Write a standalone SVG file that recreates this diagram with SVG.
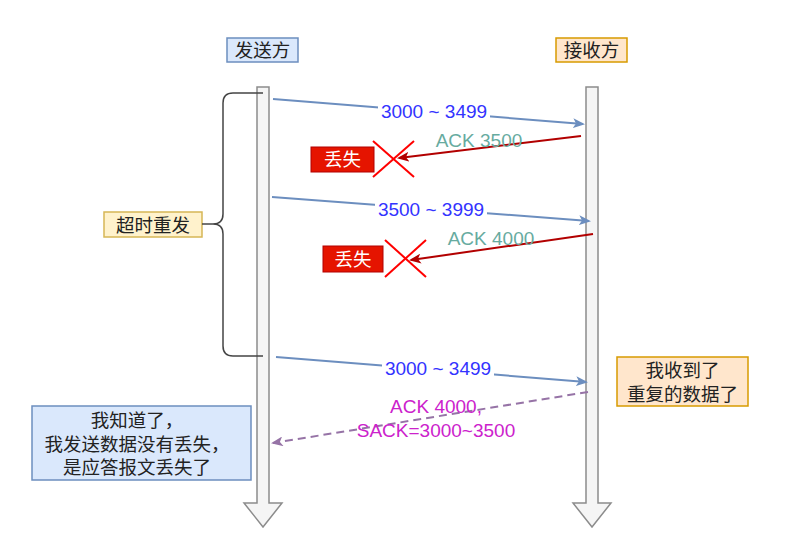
<svg xmlns="http://www.w3.org/2000/svg" width="799" height="533" viewBox="0 0 799 533">
<style>
text{font-family:"Liberation Sans","Noto Sans CJK SC",sans-serif;text-anchor:middle;dominant-baseline:central}
.life{fill:#f5f5f5;stroke:#8c8c8c;stroke-width:1.5}
.blue{fill:#dae8fc;stroke:#6c8ebf;stroke-width:1.5}
.orange{fill:#ffe6cc;stroke:#d79b00;stroke-width:1.5}
.yellow{fill:#fff2cc;stroke:#d6b656;stroke-width:1.5}
.lost{fill:#e51400;stroke:#b20000;stroke-width:1}
.t{font-size:18.5px;fill:#222}
.lt{font-size:18.5px;fill:#fff}
.seg{stroke:#6c8ebf;stroke-width:2;fill:none}
.ack{stroke:#b20000;stroke-width:2;fill:none}
.sack{stroke:#9673a6;stroke-width:2;fill:none;stroke-dasharray:8 5}
.x{stroke:#ff0000;stroke-width:2}
.segl{font-size:19px;fill:#3333ff}
.ackl{font-size:19px;fill:#67ab9f}
.sackl{font-size:19px;fill:#cc22cc}
</style>
<defs>
<marker id="mb" markerWidth="12" markerHeight="10" refX="10" refY="5" orient="auto" markerUnits="userSpaceOnUse"><path d="M0,0 L12,5 L0,10 L3,5 Z" fill="#6c8ebf"/></marker>
<marker id="mr" markerWidth="12" markerHeight="10" refX="10" refY="5" orient="auto" markerUnits="userSpaceOnUse"><path d="M0,0 L12,5 L0,10 L3,5 Z" fill="#b20000"/></marker>
<marker id="mp" markerWidth="12" markerHeight="10" refX="10" refY="5" orient="auto" markerUnits="userSpaceOnUse"><path d="M0,0 L12,5 L0,10 L3,5 Z" fill="#9673a6"/></marker>
</defs>

<g id="sender-life"><path class="life" d="M257,87 H269 V503 H282 L263,527 L244,503 H257 Z"/></g>
<g id="receiver-life"><path class="life" d="M586,87 H598 V503 H611 L592,527 L573,503 H586 Z"/></g>

<g id="sender"><rect class="blue" x="227" y="38" width="71" height="24"/><text class="t" x="262.5" y="50">发送方</text></g>
<g id="receiver"><rect class="orange" x="556" y="38" width="71" height="24"/><text class="t" x="591.5" y="50">接收方</text></g>

<g id="brace"><path d="M263,93 H233 Q223,93 223,103 V214 Q223,224 213,224 Q223,224 223,234 V346 Q223,356 233,356 H263" fill="none" stroke="#444" stroke-width="1.5"/></g>
<g id="timeout"><rect class="yellow" x="104" y="212" width="98" height="25"/><text class="t" x="153" y="225">超时重发</text></g>

<g id="connectors">
<line x1="202" y1="224" x2="213" y2="224" stroke="#444" stroke-width="1.5"/>
<line class="seg" x1="273" y1="99" x2="583" y2="124" marker-end="url(#mb)"/>
<line class="ack" x1="581" y1="136" x2="399" y2="158" marker-end="url(#mr)"/>
<line class="seg" x1="272" y1="197" x2="589" y2="221" marker-end="url(#mb)"/>
<line class="ack" x1="593" y1="234" x2="411" y2="260" marker-end="url(#mr)"/>
<line class="seg" x1="276" y1="357" x2="586" y2="382" marker-end="url(#mb)"/>
<line class="sack" x1="588" y1="392" x2="273" y2="443" marker-end="url(#mp)"/>
<rect x="378" y="101" width="112" height="21" fill="#fff"/>
<text class="segl" x="434" y="111">3000 ~ 3499</text>
<rect x="375" y="199" width="112" height="21" fill="#fff"/>
<text class="segl" x="431" y="209">3500 ~ 3999</text>
<rect x="382" y="358" width="112" height="21" fill="#fff"/>
<text class="segl" x="438" y="368">3000 ~ 3499</text>
<text class="ackl" x="479" y="140">ACK 3500</text>
<text class="ackl" x="491" y="238">ACK 4000</text>
<text class="sackl" x="436" y="406">ACK 4000,</text>
<text class="sackl" x="436" y="430">SACK=3000~3500</text>
</g>

<g id="x1"><line class="x" x1="373" y1="141" x2="414" y2="177"/><line class="x" x1="414" y1="141" x2="373" y2="177"/></g>
<g id="lost1"><rect class="lost" x="311" y="147" width="63" height="25"/><text class="lt" x="342.5" y="159.5">丢失</text></g>
<g id="x2"><line class="x" x1="385" y1="240" x2="426" y2="277"/><line class="x" x1="426" y1="240" x2="385" y2="277"/></g>
<g id="lost2"><rect class="lost" x="323" y="246" width="60" height="26"/><text class="lt" x="353" y="259">丢失</text></g>

<g id="dup"><rect class="orange" x="617" y="357" width="131" height="49"/><text class="t" x="682.5" y="370">我收到了</text><text class="t" x="682.5" y="394">重复的数据了</text></g>
<g id="know"><rect class="blue" x="32" y="406" width="219" height="74"/><text class="t" x="137" y="420">我知道了，</text><text class="t" x="137" y="444">我发送数据没有丢失，</text><text class="t" x="137" y="467">是应答报文丢失了</text></g>
</svg>
